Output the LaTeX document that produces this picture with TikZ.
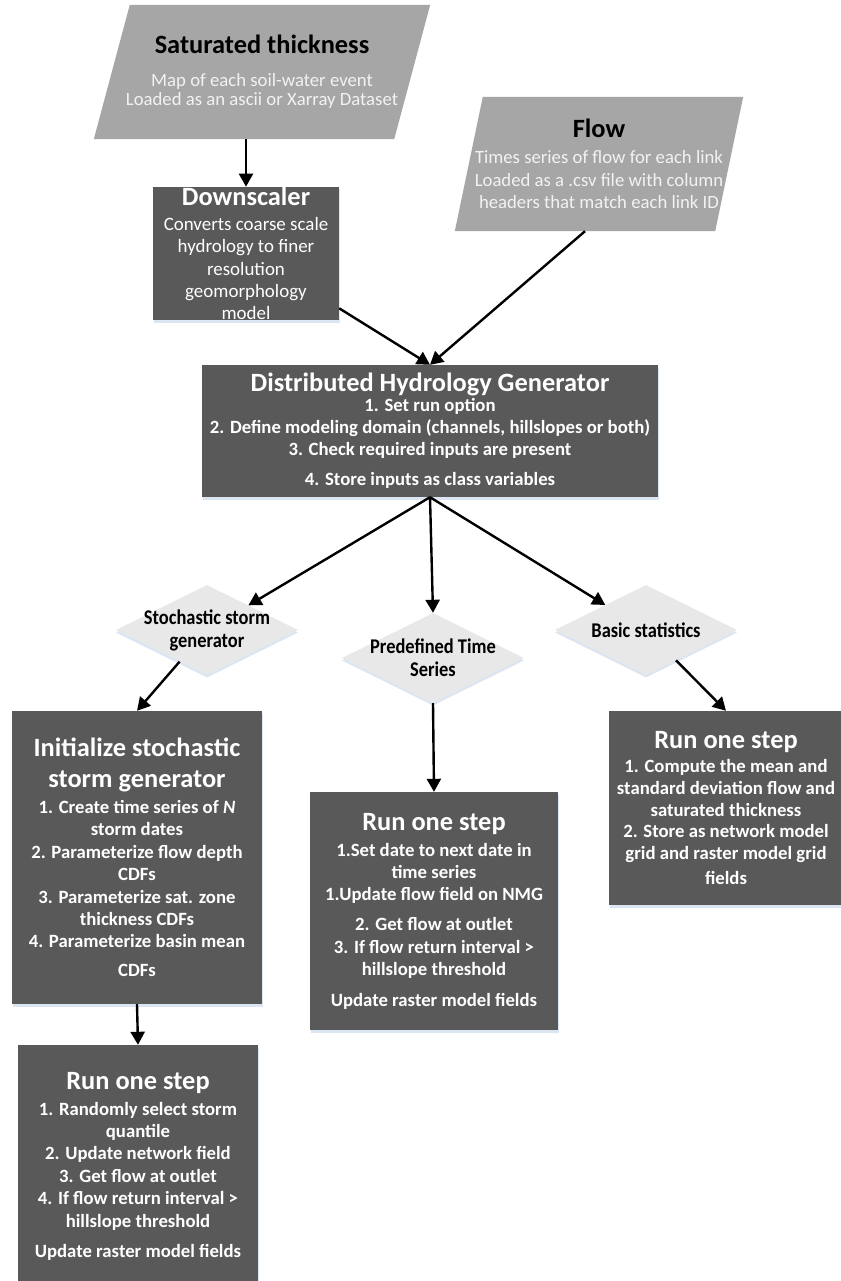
\documentclass[tikz,border=0pt]{standalone}
\usepackage{fontspec}
\setmainfont{Carlito}
\newfontfamily\choicefont[FakeStretch=0.88]{Carlito}
\usetikzlibrary{arrows.meta,shapes.geometric,backgrounds,shadows}

\definecolor{procgray}{HTML}{595959}
\definecolor{datagray}{HTML}{A6A6A6}
\definecolor{choicegray}{HTML}{E8E8E8}
\definecolor{datatext}{HTML}{F2F2F2}
\definecolor{shadowblue}{HTML}{DCE6F2}

\newcommand{\headline}[1]{{\fontsize{26.5}{26}\selectfont\bfseries #1}}
\newcommand{\tightlines}{\lineskiplimit=-100pt\relax}

\begin{document}
\begin{tikzpicture}[x=1bp, y=-1bp,
    process/.style={rectangle, fill=procgray, text=white, align=center, inner sep=0pt,
      font=\fontsize{18.8}{22.5}\selectfont\bfseries\tightlines,
      general shadow={fill=shadowblue, shadow yshift=-2.5bp, shadow xshift=1bp}},
    datain/.style={rectangle, text=datatext, align=center, inner sep=0pt,
      font=\fontsize{18.8}{22.5}\selectfont\tightlines},
    choice/.style={diamond, fill=choicegray, minimum width=182bp, minimum height=90bp,
      inner sep=0pt, general shadow={fill=shadowblue, shadow yshift=-2.5bp}},
    choicetext/.style={align=center,
      font=\choicefont\fontsize{21}{23}\selectfont\bfseries\tightlines},
    link/.style={line width=2.4bp, -{Triangle[length=13bp, width=14bp]}}
  ]
  \useasboundingbox (0,0) rectangle (841,1281);

  % inputs
  \node[datain, minimum width=300bp, minimum height=134bp,
    font=\fontsize{18.8}{19}\selectfont\tightlines] (sat) at (262,72)
    {\headline{\textcolor{black}{Saturated thickness}}\\[14bp]
     Map of each soil-water event\\
     Loaded as an ascii or Xarray Dataset};
  \node[datain, minimum width=260bp, minimum height=134bp] (flow) at (599,164)
    {\headline{\textcolor{black}{Flow}}\\[3.5bp]
     Times series of flow for each link\\
     Loaded as a .csv file with column\\
     headers that match each link ID};
  \begin{scope}[on background layer]
    \fill[white] (0,0) rectangle (841,1281);
    \fill[datagray] ([xshift=18bp]sat.north west) -- ([xshift=18bp]sat.north east)
      -- ([xshift=-18bp]sat.south east) -- ([xshift=-18bp]sat.south west) -- cycle;
    \fill[datagray] ([xshift=14bp]flow.north west) -- ([xshift=14bp]flow.north east)
      -- ([xshift=-14bp]flow.south east) -- ([xshift=-14bp]flow.south west) -- cycle;
  \end{scope}

  \node[process, minimum width=186bp, minimum height=133bp,
    font=\fontsize{19}{22.5}\selectfont\tightlines] (down) at (246,253.5)
    {\headline{Downscaler}\\[2.5bp]
     Converts coarse scale\\ hydrology to finer\\ resolution\\ geomorphology\\ model};

  \node[process, minimum width=456bp, minimum height=132bp] (dhg) at (430,431)
    {\headline{Distributed Hydrology Generator}\\[-3bp]
     1. Set run option\\
     2. Define modeling domain (channels, hillslopes or both)\\
     3. Check required inputs are present\\[7.5bp]
     4. Store inputs as class variables};

  % run options
  \node[choice, label={[choicetext, name=sto-txt]center:Stochastic storm\\generator}]
    (sto) at (207,630) {};
  \node[choice, label={[choicetext, name=pre-txt]center:Predefined Time\\Series}]
    (pre) at (433,658) {};
  \node[choice, label={[choicetext, name=bas-txt]center:Basic statistics}]
    (bas) at (646,630) {};

  \node[process, minimum width=250bp, minimum height=293bp] (ini) at (137,857.5)
    {\headline{Initialize stochastic}\\[8.5bp]
     \headline{storm generator}\\[3.5bp]
     1. Create time series of \textit{N}\\ storm dates\\
     2. Parameterize flow depth\\ CDFs\\
     3. Parameterize sat. zone\\ thickness CDFs\\
     4. Parameterize basin mean\\[6.5bp] CDFs};

  \node[process, minimum width=240bp, minimum height=242bp] (srun) at (138,1166)
    {\headline{Run one step}\\[3.5bp]
     1. Randomly select storm\\ quantile\\
     2. Update network field\\
     3. Get flow at outlet\\
     4. If flow return interval >\\ hillslope threshold\\[7.5bp]
     Update raster model fields};

  \node[process, minimum width=248bp, minimum height=238bp] (prun) at (434,911)
    {\headline{Run one step}\\[3.5bp]
     1.Set date to next date in\\ time series\\
     1.Update flow field on NMG\\[7.5bp]
     2. Get flow at outlet\\
     3. If flow return interval >\\ hillslope threshold\\[8bp]
     Update raster model fields};

  \node[process, minimum width=234bp, minimum height=194bp,
    font=\fontsize{18.8}{21.7}\selectfont\bfseries\tightlines] (brun) at (726,808)
    {\headline{Run one step}\\[2.3bp]
     1. Compute the mean and\\ standard deviation flow and\\ saturated thickness\\
     2. Store as network model\\ grid and raster model grid\\[3.3bp]
     fields};

  % connectors
  \draw[link] (sat.south -| down.north) -- (down.north);
  \draw[link] ([yshift=12bp]down.south east) -- (dhg.north);
  \draw[link] ([xshift=-14bp]flow.south) -- (dhg.north);
  \draw[link] (dhg.south) -- (sto);
  \draw[link] (dhg.south) -- (pre.north);
  \draw[link] (dhg.south) -- (bas);
  \draw[link] (sto) -- (ini.north);
  \draw[link] (pre.south) -- (prun.north);
  \draw[link] (bas) -- (brun.north);
  \draw[link] (ini.south) -- (srun.north);
\end{tikzpicture}
\end{document}
